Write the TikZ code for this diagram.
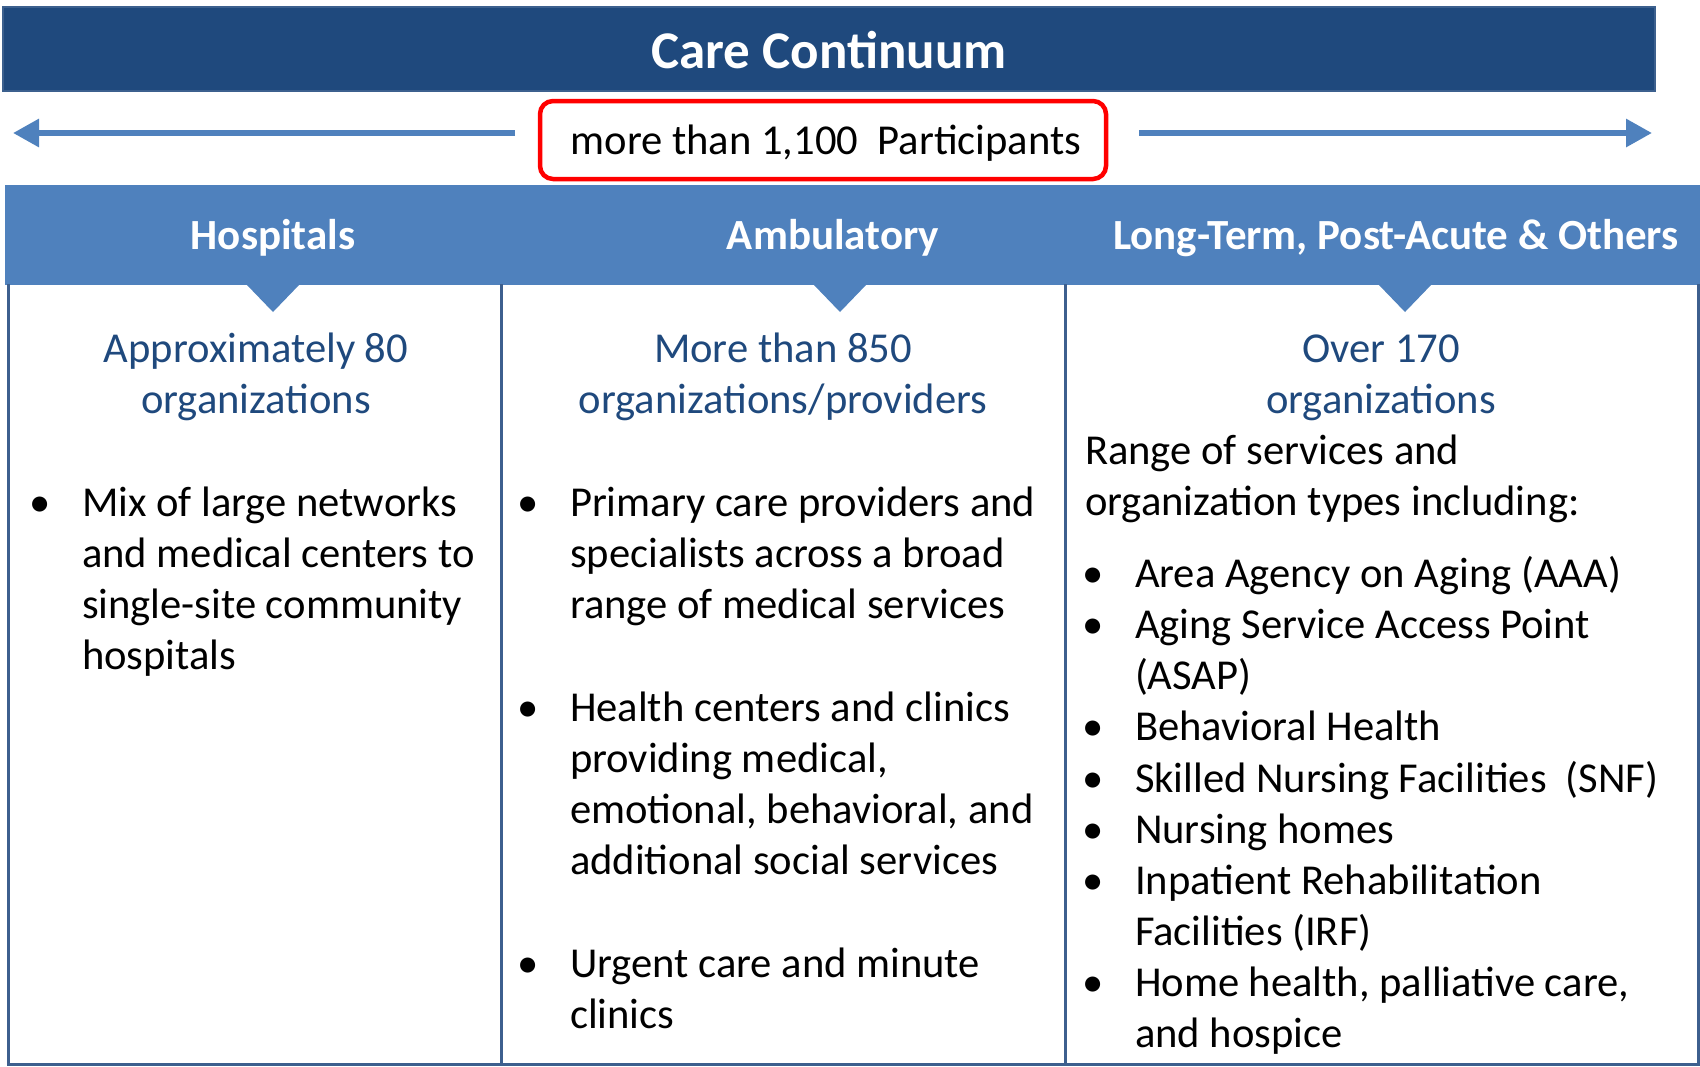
\documentclass[tikz,border=0pt]{standalone}
\usepackage{fontspec}
\setmainfont{Carlito}
\usetikzlibrary{arrows.meta}
\definecolor{navy}{RGB}{31,73,125}
\definecolor{navyedge}{RGB}{60,96,142}
\definecolor{band}{RGB}{79,129,189}
\definecolor{colrule}{RGB}{61,95,142}
\definecolor{alert}{RGB}{255,0,0}
\newcommand{\txtsize}{\fontsize{42.6}{51}\selectfont}
\newcommand{\leftblock}[1]{\parbox[t]{600pt}{\raggedright\txtsize #1}}
\newcommand{\midblock}[1]{\parbox[t]{600pt}{\centering\txtsize #1}}
\begin{document}
\begin{tikzpicture}[x=1pt,y=-1pt,
  every node/.style={inner sep=0pt, outer sep=0pt},
  body/.style={anchor=base west, text=black},
  subtitle/.style={anchor=base, text=navy},
  head/.style={anchor=base, text=white, font=\fontsize{43}{46}\selectfont\bfseries},
  dot/.style={anchor=base, font=\txtsize},
  flow/.style={draw=band, line width=6pt, -{Triangle[length=26pt,width=27pt]}},
  pointer/.style={fill=band},
  colline/.style={draw=colrule, line width=3pt}]
\useasboundingbox (0,0) rectangle (1700,1066);

% title bar
\node[fill=navy, draw=navyedge, line width=2.5pt, minimum width=1652pt, minimum height=84pt, anchor=north west]
  (title) at (3,7) {};
\node[anchor=base, text=white, font=\fontsize{53}{56}\selectfont\bfseries] (titletext) at (829,68) {Care Continuum};

% participant count with arrows pointing both ways
\node[draw=alert, line width=4.5pt, rounded corners=13pt, minimum width=566pt, minimum height=78pt, anchor=north west]
  (count) at (540,101) {};
\node[anchor=base, font=\txtsize] (counttext) at (826,154) {more than 1,100~~Participants};
\coordinate (lstart) at (515,133);
\coordinate (ltip) at (13,133);
\coordinate (rstart) at (1139,133);
\coordinate (rtip) at (1652,133);
\draw[flow] (lstart) -- (ltip);
\draw[flow] (rstart) -- (rtip);

% column header band
\node[fill=band, minimum width=1695pt, minimum height=100pt, anchor=north west] (band) at (5,185) {};
\node[head] (h1) at (273,249) {Hospitals};
\node[head] (h2) at (833,249) {Ambulatory};
\node[head] (h3) at (1396,249) {Long-Term, Post-Acute \& Others};

% column frames
\coordinate (c0t) at (8,284);
\coordinate (c0b) at (8,1064);
\coordinate (c1t) at (501,284);
\coordinate (c1b) at (501,1064);
\coordinate (c2t) at (1065,284);
\coordinate (c2b) at (1065,1064);
\coordinate (c3t) at (1698,284);
\coordinate (c3b) at (1698,1064);
\draw[colline] (c0t) -- (c0b) -- (c3b) -- (c3t);
\draw[colline] (c1t) -- (c1b);
\draw[colline] (c2t) -- (c2b);

% pointers under each header
\fill[pointer] (246,284) -- (300,284) -- (273,312) -- cycle;
\fill[pointer] (813,284) -- (867,284) -- (840,312) -- cycle;
\fill[pointer] (1378,284) -- (1432,284) -- (1405,312) -- cycle;

% Hospitals column
\node[subtitle] (s1) at (256,362) {\midblock{Approximately 80\\organizations}};
\node[dot] (b11) at (40,516) {•};
\node[body] (t11) at (82,516) {\leftblock{Mix of large networks\\and medical centers to\\single-site community\\hospitals}};

% Ambulatory column
\node[subtitle] (s2) at (783,362) {\midblock{More than 850\\organizations/providers}};
\node[dot] (b21) at (528,516) {•};
\node[body] (t21) at (570,516) {\leftblock{Primary care providers and\\specialists across a broad\\range of medical services}};
\node[dot] (b22) at (528,721) {•};
\node[body] (t22) at (570,721) {\leftblock{Health centers and clinics\\providing medical,\\emotional, behavioral, and\\additional social services}};
\node[dot] (b23) at (528,977) {•};
\node[body] (t23) at (570,977) {\leftblock{Urgent care and minute\\clinics}};

% Long-term column
\node[subtitle] (s3) at (1381,362) {\midblock{Over 170\\organizations}};
\node[body] (t30) at (1085,464) {\leftblock{Range of services and\\organization types including:}};
\node[dot] (b31) at (1093,587) {•};
\node[body] (t31) at (1135,587) {\leftblock{Area Agency on Aging (AAA)}};
\node[dot] (b32) at (1093,638) {•};
\node[body] (t32) at (1135,638) {\leftblock{Aging Service Access Point\\(ASAP)}};
\node[dot] (b33) at (1093,740) {•};
\node[body] (t33) at (1135,740) {\leftblock{Behavioral Health}};
\node[dot] (b34) at (1093,792) {•};
\node[body] (t34) at (1135,792) {\leftblock{Skilled Nursing Facilities~~(SNF)}};
\node[dot] (b35) at (1093,843) {•};
\node[body] (t35) at (1135,843) {\leftblock{Nursing homes}};
\node[dot] (b36) at (1093,894) {•};
\node[body] (t36) at (1135,894) {\leftblock{Inpatient Rehabilitation\\Facilities (IRF)}};
\node[dot] (b37) at (1093,996) {•};
\node[body] (t37) at (1135,996) {\leftblock{Home health, palliative care,\\and hospice}};
\end{tikzpicture}
\end{document}
